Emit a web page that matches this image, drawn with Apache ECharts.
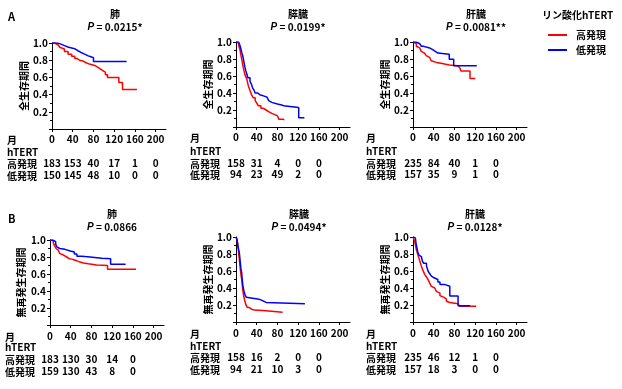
<!DOCTYPE html>
<html><head><meta charset="utf-8">
<script src="https://cdn.jsdelivr.net/npm/echarts@6/dist/echarts.min.js"></script>
<style>html,body{margin:0;padding:0;background:#fff}#c{width:622px;height:389px}</style>
</head><body><div id="c"></div>
<script>
// ---------- data ----------
const monthTicks = [0, 40, 80, 120, 160, 200];
const survivalTicks = [0.2, 0.4, 0.6, 0.8, 1.0];
const groupNames = ['高発現', '低発現'];
const legendTitle = 'リン酸化hTERT';
const rowLabels = ['月', 'hTERT', '高発現', '低発現'];
const panelLetters = ['A', 'B'];
const organs = ['肺', '膵臓', '肝臓'];
const yNameOS = '全生存期間';
const yNameRFS = '無再発生存期間';
const pValuesOS = ['0.0215*', '0.0199*', '0.0081**'];
const pValuesRFS = ['0.0866', '0.0494*', '0.0128*'];

// numbers at risk
const riskLungOSHigh = [183, 153, 40, 17, 1, 0];
const riskLungOSLow = [150, 145, 48, 10, 0, 0];
const riskPancOSHigh = [158, 31, 4, 0, 0];
const riskPancOSLow = [94, 23, 49, 2, 0];
const riskLiverOSHigh = [235, 84, 40, 1, 0];
const riskLiverOSLow = [157, 35, 9, 1, 0];
const riskLungRFSHigh = [183, 130, 30, 14, 0];
const riskLungRFSLow = [159, 130, 43, 8, 0];
const riskPancRFSHigh = [158, 16, 2, 0, 0];
const riskPancRFSLow = [94, 21, 10, 3, 0];
const riskLiverRFSHigh = [235, 46, 12, 1, 0];
const riskLiverRFSLow = [157, 18, 3, 0, 0];

// Kaplan-Meier curves [month, survival]
const lungOSHigh = [[0,1],[5,0.99],[8,0.98],[11.5,0.97],[15,0.95],[18,0.93],[24,0.9],[31,0.87],[38,0.845],[44,0.82],[48,0.8],[53,0.79],[60,0.77],[66,0.755],[72,0.745],[79,0.735],[84,0.72],[88,0.7],[93,0.68],[98,0.66],[103,0.63],[107,0.6],[129,0.54],[136,0.46],[164,0.46]];
const lungOSLow = [[0,1],[10,0.99],[16,0.97],[24,0.95],[32,0.94],[40,0.93],[45,0.91],[50,0.89],[56,0.87],[63,0.85],[70,0.84],[75,0.83],[80,0.785],[144,0.785]];
const pancOSHigh = [[0,1],[3,0.99],[4.5,0.97],[6,0.94],[7.7,0.91],[9,0.86],[11,0.8],[12.5,0.75],[14,0.7],[15.5,0.66],[17,0.62],[19,0.59],[21,0.56],[22.5,0.52],[24,0.48],[27,0.43],[30,0.38],[33,0.345],[37,0.31],[40,0.28],[43,0.25],[48,0.22],[53,0.2],[58,0.18],[63,0.16],[69,0.145],[75,0.13],[80,0.11],[83,0.09],[92,0.08]];
const pancOSLow = [[0,1],[5,0.99],[7,0.97],[9,0.93],[11,0.88],[13,0.84],[15.5,0.76],[17,0.71],[19,0.66],[21,0.62],[23,0.58],[27,0.54],[30,0.5],[32,0.46],[35,0.43],[37,0.4],[42,0.38],[46,0.36],[56,0.35],[60,0.33],[63,0.31],[66,0.29],[69,0.27],[80,0.26],[88,0.25],[92,0.23],[121,0.11],[132,0.11]];
const liverOSHigh = [[0,1],[3,0.98],[6.4,0.95],[10,0.93],[12.8,0.91],[16,0.89],[19,0.87],[22,0.855],[25.5,0.84],[29,0.82],[32,0.8],[35,0.78],[38,0.76],[45,0.75],[54,0.74],[61,0.73],[70,0.72],[86,0.7],[90,0.68],[92.5,0.66],[110,0.57],[120,0.57]];
const liverOSLow = [[0,1],[6,0.99],[9.6,0.98],[13,0.965],[16,0.95],[20,0.94],[25.5,0.93],[32,0.91],[38,0.89],[43,0.87],[48,0.855],[70,0.796],[78.5,0.72],[123,0.72]];
const lungRFSHigh = [[0,1],[3,0.99],[6.5,0.96],[9,0.93],[11.6,0.9],[14,0.88],[16,0.86],[19,0.84],[22.6,0.82],[27,0.8],[32,0.78],[37,0.775],[42,0.765],[47,0.755],[52,0.74],[58,0.73],[64.5,0.72],[74,0.705],[90,0.7],[111,0.655],[166,0.655]];
const lungRFSLow = [[0,1],[5,0.99],[8.4,0.98],[11,0.95],[13,0.92],[16,0.9],[19,0.89],[29,0.87],[39,0.86],[47,0.835],[52,0.81],[60,0.805],[68,0.8],[77,0.785],[100,0.78],[117,0.715],[146,0.715]];
const pancRFSHigh = [[0,1],[2,0.97],[3,0.92],[4.5,0.85],[5.5,0.79],[6.5,0.73],[7.5,0.67],[8.4,0.62],[9.5,0.56],[11,0.5],[12,0.44],[13,0.38],[14,0.34],[15,0.3],[17,0.25],[19,0.205],[22,0.17],[26,0.15],[30,0.14],[35.5,0.135],[52,0.13],[55,0.115],[90,0.115]];
const pancRFSLow = [[0,1],[2,0.97],[3,0.93],[4.5,0.87],[6.5,0.81],[7.5,0.75],[8.4,0.69],[9.5,0.63],[11,0.58],[12,0.5],[13.5,0.42],[15.5,0.36],[17.4,0.32],[20,0.29],[22.6,0.28],[32,0.27],[42,0.26],[48,0.245],[53,0.23],[58,0.215],[133,0.215]];
const liverRFSHigh = [[0,1],[1.5,0.98],[3,0.95],[5,0.9],[6.5,0.85],[8,0.82],[9.7,0.8],[11,0.76],[13,0.72],[14.5,0.69],[16,0.66],[19,0.61],[22.6,0.56],[26,0.53],[29,0.5],[32,0.46],[35.5,0.42],[38,0.4],[42,0.38],[45,0.36],[48,0.34],[52,0.31],[55,0.29],[60,0.27],[64.5,0.245],[68,0.23],[71,0.215],[87,0.205],[90,0.185],[122,0.185]];
const liverRFSLow = [[0,1],[3,0.99],[4.5,0.97],[6,0.92],[7.7,0.87],[9,0.83],[11,0.79],[13.5,0.77],[16,0.75],[18,0.72],[20.6,0.69],[26,0.66],[27.5,0.63],[29,0.6],[32,0.57],[35.5,0.54],[38,0.52],[40.6,0.5],[48,0.47],[52,0.44],[62,0.42],[71,0.305],[87,0.19],[110,0.19]];

// ---------- layout / style ----------
const FONT = '"Noto Sans CJK JP", "Noto Sans", sans-serif';
const FS = 10;
const RED = '#ff0000', BLUE = '#0000ff';
const txt = (extra) => Object.assign({color: '#000', fontSize: FS, fontWeight: 'bold', fontFamily: FONT}, extra || {});

const panels = [
  {grid:{left:52, top:43, width:114, height:86}, tx:115, ty:9, rowX:7, rowY:[140,152,164,176], nameGap:21, organ:organs[0], p:pValuesOS[0], yName:yNameOS, hi:lungOSHigh, lo:lungOSLow, rHi:riskLungOSHigh, rLo:riskLungOSLow},
  {grid:{left:236, top:42, width:114, height:85}, tx:298, ty:9, rowX:190, rowY:[138,151,164,175], nameGap:23, organ:organs[1], p:pValuesOS[1], yName:yNameOS, hi:pancOSHigh, lo:pancOSLow, rHi:riskPancOSHigh, rLo:riskPancOSLow},
  {grid:{left:413, top:42, width:114, height:85}, tx:476, ty:9, rowX:366, rowY:[138,151,164,175], nameGap:22, organ:organs[2], p:pValuesOS[2], yName:yNameOS, hi:liverOSHigh, lo:liverOSLow, rHi:riskLiverOSHigh, rLo:riskLiverOSLow},
  {grid:{left:50, top:240, width:114, height:85}, tx:112, ty:209, rowX:5, rowY:[337,347,360,372], nameGap:24, organ:organs[0], p:pValuesRFS[0], yName:yNameRFS, hi:lungRFSHigh, lo:lungRFSLow, rHi:riskLungRFSHigh, rLo:riskLungRFSLow},
  {grid:{left:236, top:237, width:114, height:85}, tx:299, ty:209, rowX:190, rowY:[334,346,358,370], nameGap:23, organ:organs[1], p:pValuesRFS[1], yName:yNameRFS, hi:pancRFSHigh, lo:pancRFSLow, rHi:riskPancRFSHigh, rLo:riskPancRFSLow},
  {grid:{left:413, top:237, width:114, height:85}, tx:475, ty:209, rowX:366, rowY:[334,346,358,370], nameGap:22, organ:organs[2], p:pValuesRFS[2], yName:yNameRFS, hi:liverRFSHigh, lo:liverRFSLow, rHi:riskLiverRFSHigh, rLo:riskLiverRFSLow}
];

const grid = [], xAxis = [], yAxis = [], series = [], title = [], graphic = [];

panels.forEach((p, k) => {
  grid.push(Object.assign({containLabel:false}, p.grid));
  const axisY = p.grid.top + p.grid.height;
  const margin = p.rowY[0] - axisY - 5.5;
  const offHi = p.rowY[2] - p.rowY[0];
  const offLo = p.rowY[3] - p.rowY[0];
  xAxis.push({
    type:'value', gridIndex:k, min:0, max:220, position:'bottom',
    axisLine:{show:true, onZero:false, lineStyle:{color:'#000', width:1}},
    axisTick:{show:true, length:3, customValues:monthTicks, lineStyle:{color:'#000'}},
    axisLabel:txt({customValues:monthTicks, margin:margin}),
    splitLine:{show:false}
  });
  [[p.rHi, offHi], [p.rLo, offLo]].forEach(([counts, off]) => {
    xAxis.push({
      type:'value', gridIndex:k, min:0, max:220, position:'bottom', offset:off,
      axisLine:{show:false}, axisTick:{show:false}, splitLine:{show:false},
      axisLabel:txt({customValues:monthTicks.slice(0, counts.length), margin:margin,
        formatter:(v) => String(counts[monthTicks.indexOf(v)])})
    });
  });
  yAxis.push({
    type:'value', gridIndex:k, min:0, max:1, interval:0.2,
    axisLine:{show:true, lineStyle:{color:'#000', width:1}},
    axisTick:{show:true, length:3, lineStyle:{color:'#000'}},
    minorTick:{show:true, splitNumber:2, length:2, lineStyle:{color:'#000'}},
    axisLabel:txt({customValues:survivalTicks, margin:4, formatter:(v) => v.toFixed(1)}),
    splitLine:{show:false},
    name:p.yName, nameLocation:'middle', nameGap:p.nameGap, nameTextStyle:txt()
  });
  [[p.hi, groupNames[0], RED], [p.lo, groupNames[1], BLUE]].forEach(([d, nm, col]) => {
    series.push({
      type:'line', name:nm, xAxisIndex:3*k, yAxisIndex:k, data:d, step:'end',
      showSymbol:false, symbol:'none', color:col,
      lineStyle:{color:col, width:1.5}, animation:false, silent:true
    });
  });
  title.push({
    text:p.organ, subtext:'{i|P} = ' + p.p, left:p.tx, top:p.ty, textAlign:'center',
    padding:0, itemGap:3,
    textStyle:txt(), subtextStyle:txt({rich:{i:txt({fontStyle:'italic', fontFamily:'"Liberation Sans", sans-serif'})}})
  });
  rowLabels.forEach((lab, r) => {
    graphic.push({type:'text', x:p.rowX, y:p.rowY[r],
      style:{text:lab, fill:'#000', font:'bold ' + FS + 'px ' + FONT, verticalAlign:'middle'}});
  });
});

graphic.push({type:'text', x:8, y:17, style:{text:panelLetters[0], fill:'#000', font:'bold 11px ' + FONT, verticalAlign:'middle'}});
graphic.push({type:'text', x:8, y:219, style:{text:panelLetters[1], fill:'#000', font:'bold 11px ' + FONT, verticalAlign:'middle'}});
graphic.push({type:'text', x:542, y:15, style:{text:legendTitle, fill:'#000', font:'bold ' + FS + 'px ' + FONT, verticalAlign:'middle'}});

const chart = echarts.init(document.getElementById('c'), null, {renderer:'canvas'});
chart.setOption({
  animation:false,
  backgroundColor:'#fff',
  title, grid, xAxis, yAxis, series, graphic,
  legend:{
    data:groupNames, orient:'vertical', left:543, top:25, itemWidth:19, itemHeight:2, itemGap:5,
    icon:'rect', textStyle:txt({padding:[0,0,0,4]}), selectedMode:false
  }
});
</script></body></html>
